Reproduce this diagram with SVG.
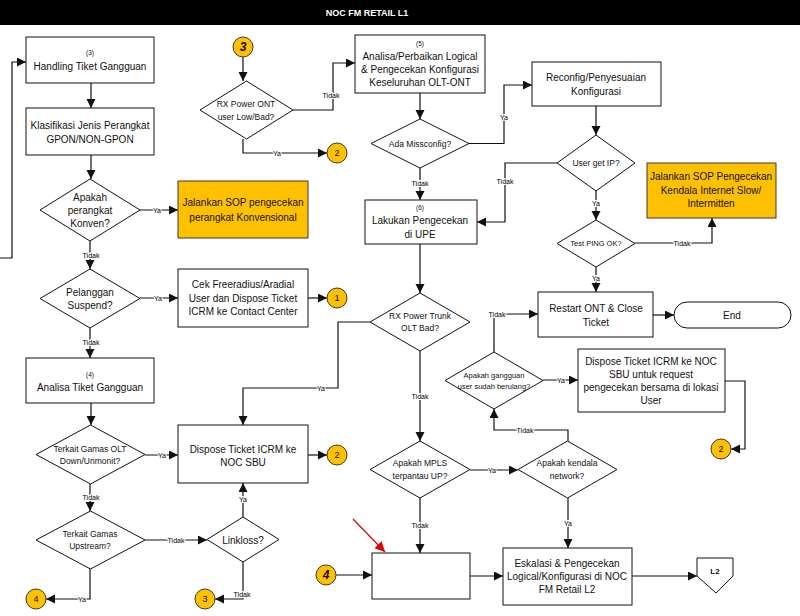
<svg xmlns="http://www.w3.org/2000/svg" width="800" height="616" viewBox="0 0 800 616">
<defs>
<style>
.bx{fill:#fff;stroke:#111;stroke-width:1}
.og{fill:#FFC000;stroke:#3a3a3a;stroke-width:1}
.ci{fill:#FFC000;stroke:#3a3a3a;stroke-width:1}
.ln{fill:none;stroke:#111;stroke-width:1.2;marker-end:url(#ah)}
text{font-family:"Liberation Sans",Arial,sans-serif;fill:#111;text-anchor:middle;dominant-baseline:central}
.t{font-size:10px}
.d{font-size:8.5px}
.s{font-size:7.5px}
.n{font-size:6.5px}
.lb{font-size:7px;fill:#000;stroke:#fff;stroke-width:2.2;paint-order:stroke fill}
.cn{font-size:9px}
.cb{font-size:12px;font-weight:bold;font-style:italic}
</style>
<marker id="ah" markerUnits="userSpaceOnUse" markerWidth="10" markerHeight="10" refX="9" refY="4.5" orient="auto">
<path d="M0,0 L9,4.5 L0,9 Z" fill="#111"/>
</marker>
<marker id="rh" markerUnits="userSpaceOnUse" markerWidth="12" markerHeight="12" refX="10" refY="5" orient="auto">
<path d="M0,0 L10,5 L0,10 Z" fill="#e00000"/>
</marker>
</defs>
<rect x="0" y="0" width="800" height="616" fill="#fff"/>
<rect x="0" y="0" width="800" height="25" fill="#000"/>
<text x="367" y="13" style="font-size:9px;font-weight:bold;fill:#fff">NOC FM RETAIL L1</text>

<g id="connectors">
<path class="ln" d="M0,258 H12 V62 H26"/>
<path class="ln" d="M91,83 V108"/>
<path class="ln" d="M91,155 V179"/>
<path class="ln" d="M140,210 H178"/>
<path class="ln" d="M90,241 V269"/>
<path class="ln" d="M140,298 H178"/>
<path class="ln" d="M308,298 H327"/>
<path class="ln" d="M90,328 V358"/>
<path class="ln" d="M91,403 V425"/>
<path class="ln" d="M145,455 H178"/>
<path class="ln" d="M308,455 H327"/>
<path class="ln" d="M90,484 V511"/>
<path class="ln" d="M145,540 H207"/>
<path class="ln" d="M243,517 V483"/>
<path class="ln" d="M243,562 V599 H215"/>
<path class="ln" d="M90,569 V599 H46"/>
<path class="ln" d="M243,57 V81"/>
<path class="ln" d="M293,110 H333 V63 H355"/>
<path class="ln" d="M243,139 V153 H327"/>
<path class="ln" d="M420,93 V119"/>
<path class="ln" d="M469,143.5 H504 V85 H532"/>
<path class="ln" d="M420,168 V200"/>
<path class="ln" d="M596,106 V135"/>
<path class="ln" d="M557,163 H505 V222 H477"/>
<path class="ln" d="M596,191 V220"/>
<path class="ln" d="M635,243 H712 V218"/>
<path class="ln" d="M596,267 V292"/>
<path class="ln" d="M653,315 H674"/>
<path class="ln" d="M494,352 V314 H538"/>
<path class="ln" d="M543,380 H578"/>
<path class="ln" d="M725,381 H745 V449 H731"/>
<path class="ln" d="M568,441 V430 H494 V409"/>
<path class="ln" d="M420,244 V293"/>
<path class="ln" d="M370,322 H338 V388 H243 V425"/>
<path class="ln" d="M420,351 V441"/>
<path class="ln" d="M470,470 H518"/>
<path class="ln" d="M568,498 V548"/>
<path class="ln" d="M420,498 V553"/>
<path class="ln" d="M470,576 H503"/>
<path class="ln" d="M336,575 H372"/>
<path class="ln" d="M632,576 H697"/>
<path d="M353,519 L385,552" fill="none" stroke="#e00000" stroke-width="1.2" marker-end="url(#rh)"/>
<text class="lb" x="157" y="210">Ya</text>
<text class="lb" x="91" y="255">Tidak</text>
<text class="lb" x="158" y="298">Ya</text>
<text class="lb" x="91" y="342">Tidak</text>
<text class="lb" x="162" y="455">Ya</text>
<text class="lb" x="91" y="497">Tidak</text>
<text class="lb" x="176" y="540">Tidak</text>
<text class="lb" x="243" y="499">Ya</text>
<text class="lb" x="242" y="594">Tidak</text>
<text class="lb" x="82" y="599">Ya</text>
<text class="lb" x="331" y="95">Tidak</text>
<text class="lb" x="277" y="153">Ya</text>
<text class="lb" x="504" y="117">Ya</text>
<text class="lb" x="420" y="183">Tidak</text>
<text class="lb" x="505" y="181">Tidak</text>
<text class="lb" x="596" y="203">Ya</text>
<text class="lb" x="682" y="243">Tidak</text>
<text class="lb" x="596" y="278">Ya</text>
<text class="lb" x="497" y="314">Tidak</text>
<text class="lb" x="561" y="380">Ya</text>
<text class="lb" x="321" y="388">Ya</text>
<text class="lb" x="420" y="396">Tidak</text>
<text class="lb" x="525" y="430">Tidak</text>
<text class="lb" x="492" y="470">Ya</text>
<text class="lb" x="568" y="523">Ya</text>
<text class="lb" x="420" y="525">Tidak</text>
</g>

<g id="n_handling"><rect class="bx" x="26" y="37" width="128" height="46"/><text class="n" x="90" y="52">(3)</text><text class="t" x="90" y="66">Handling Tiket Gangguan</text></g>
<g id="n_klasifikasi"><rect class="bx" x="26" y="108" width="128" height="47"/><text class="t" x="90" y="125">Klasifikasi Jenis Perangkat</text><text class="t" x="90" y="139">GPON/NON-GPON</text></g>
<g id="n_konven"><path class="bx" d="M90,179 L140,210 L90,241 L40,210 Z"/><text class="t" x="90" y="197">Apakah</text><text class="t" x="90" y="210">perangkat</text><text class="t" x="90" y="223">Konven?</text></g>
<g id="n_sop_konv"><rect class="og" x="178" y="181" width="130" height="57"/><text class="t" x="243" y="202">Jalankan SOP pengecekan</text><text class="t" x="243" y="217">perangkat Konvensional</text></g>
<g id="n_suspend"><path class="bx" d="M90,269 L140,298.5 L90,328 L40,298.5 Z"/><text class="t" x="90" y="292">Pelanggan</text><text class="t" x="90" y="305">Suspend?</text></g>
<g id="n_cek"><rect class="bx" x="178" y="269" width="130" height="58"/><text class="t" x="243" y="284">Cek Freeradius/Aradial</text><text class="t" x="243" y="298">User dan Dispose Ticket</text><text class="t" x="243" y="311">ICRM ke Contact Center</text></g>
<g id="n_c1"><circle class="ci" cx="337" cy="298" r="10"/><text class="cn" x="337" y="298">1</text></g>
<g id="n_analisa"><rect class="bx" x="26" y="358" width="128" height="45"/><text class="n" x="90" y="374">(4)</text><text class="t" x="90" y="387">Analisa Tiket Gangguan</text></g>
<g id="n_gamas_olt"><path class="bx" d="M90.5,425 L145,454.5 L90.5,484 L36,454.5 Z"/><text class="d" x="90" y="449">Terkait Gamas OLT</text><text class="d" x="90" y="461">Down/Unmonit?</text></g>
<g id="n_dispose"><rect class="bx" x="178" y="425" width="130" height="58"/><text class="t" x="243" y="449">Dispose Ticket ICRM ke</text><text class="t" x="243" y="462">NOC SBU</text></g>
<g id="n_c2a"><circle class="ci" cx="337" cy="455" r="10"/><text class="cn" x="337" y="455">2</text></g>
<g id="n_upstream"><path class="bx" d="M90.5,511 L145,540 L90.5,569 L36,540 Z"/><text class="d" x="90" y="534">Terkait Gamas</text><text class="d" x="90" y="546">Upstream?</text></g>
<g id="n_linkloss"><path class="bx" d="M243,517 L279,539.5 L243,562 L207,539.5 Z"/><text class="t" x="243" y="540">Linkloss?</text></g>
<g id="n_c3b"><circle class="ci" cx="205" cy="599" r="10"/><text class="cn" x="205" y="599">3</text></g>
<g id="n_c4b"><circle class="ci" cx="36" cy="599" r="10"/><text class="cn" x="36" y="599">4</text></g>
<g id="n_c3"><circle class="ci" cx="243" cy="47" r="10"/><text class="cb" x="243" y="47">3</text></g>
<g id="n_rx_ont"><path class="bx" d="M246.5,81 L293,110 L246.5,139 L200,110 Z"/><text class="d" x="246" y="104">RX Power ONT</text><text class="d" x="246" y="117">user Low/Bad?</text></g>
<g id="n_c2b"><circle class="ci" cx="337" cy="153" r="10"/><text class="cn" x="337" y="153">2</text></g>
<g id="n_analisa5"><rect class="bx" x="355" y="35" width="130" height="58"/><text class="n" x="420" y="43">(5)</text><text class="t" x="420" y="56">Analisa/Perbaikan Logical</text><text class="t" x="420" y="69">&amp; Pengecekan Konfigurasi</text><text class="t" x="420" y="82">Keseluruhan OLT-ONT</text></g>
<g id="n_missconfig"><path class="bx" d="M420,119 L469,143.5 L420,168 L371,143.5 Z"/><text class="d" x="420" y="144">Ada Missconfig?</text></g>
<g id="n_reconfig"><rect class="bx" x="532" y="62" width="129" height="44"/><text class="t" x="596" y="77">Reconfig/Penyesuaian</text><text class="t" x="596" y="91">Konfigurasi</text></g>
<g id="n_userip"><path class="bx" d="M596,135 L635,163 L596,191 L557,163 Z"/><text class="d" x="596" y="163">User get IP?</text></g>
<g id="n_sop_slow"><rect class="og" x="647" y="163" width="129" height="55"/><text class="t" x="711" y="176">Jalankan SOP Pengecekan</text><text class="t" x="711" y="190">Kendala Internet Slow/</text><text class="t" x="711" y="203">Intermitten</text></g>
<g id="n_upe"><rect class="bx" x="365" y="200" width="112" height="44"/><text class="n" x="420" y="207">(6)</text><text class="t" x="420" y="220">Lakukan Pengecekan</text><text class="t" x="420" y="234">di UPE</text></g>
<g id="n_ping"><path class="bx" d="M596,220 L635,243.5 L596,267 L557,243.5 Z"/><text class="s" x="596" y="243">Test PING OK?</text></g>
<g id="n_restart"><rect class="bx" x="538" y="292" width="115" height="45"/><text class="t" x="596" y="308">Restart ONT &amp; Close</text><text class="t" x="596" y="322">Ticket</text></g>
<g id="n_end"><rect class="bx" x="674" y="302" width="117" height="26" rx="13" ry="13"/><text class="t" x="732" y="315">End</text></g>
<g id="n_rx_trunk"><path class="bx" d="M420,293 L470,322 L420,351 L370,322 Z"/><text class="d" x="420" y="316">RX Power Trunk</text><text class="d" x="420" y="328">OLT Bad?</text></g>
<g id="n_berulang"><path class="bx" d="M494,352 L543,380.5 L494,409 L445,380.5 Z"/><text class="s" x="494" y="375">Apakah gangguan</text><text class="s" x="494" y="386">user sudah berulang?</text></g>
<g id="n_dispose_sbu"><rect class="bx" x="578" y="349" width="147" height="63"/><text class="t" x="651" y="361">Dispose Ticket ICRM ke NOC</text><text class="t" x="651" y="374">SBU untuk request</text><text class="t" x="651" y="387">pengecekan bersama di lokasi</text><text class="t" x="651" y="400">User</text></g>
<g id="n_c2c"><circle class="ci" cx="721" cy="449" r="10"/><text class="cn" x="721" y="449">2</text></g>
<g id="n_mpls"><path class="bx" d="M420,441 L470,469.5 L420,498 L370,469.5 Z"/><text class="d" x="420" y="463">Apakah MPLS</text><text class="d" x="420" y="476">terpantau UP?</text></g>
<g id="n_kendala"><path class="bx" d="M567.5,441 L617,469.5 L567.5,498 L518,469.5 Z"/><text class="d" x="567" y="463">Apakah kendala</text><text class="d" x="567" y="476">network?</text></g>
<g id="n_empty"><rect class="bx" x="372" y="553" width="98" height="46"/></g>
<g id="n_c4"><circle class="ci" cx="326" cy="575" r="10"/><text class="cb" x="326" y="575">4</text></g>
<g id="n_eskalasi"><rect class="bx" x="503" y="548" width="129" height="57"/><text class="t" x="567" y="563">Eskalasi &amp; Pengecekan</text><text class="t" x="567" y="576">Logical/Konfigurasi di NOC</text><text class="t" x="567" y="589">FM Retail L2</text></g>
<g id="n_l2"><path class="bx" d="M697,558 H733 V576 L716,593 L697,576 Z"/><text x="715" y="571" style="font-size:8px;font-weight:bold">L2</text></g>
</svg>
